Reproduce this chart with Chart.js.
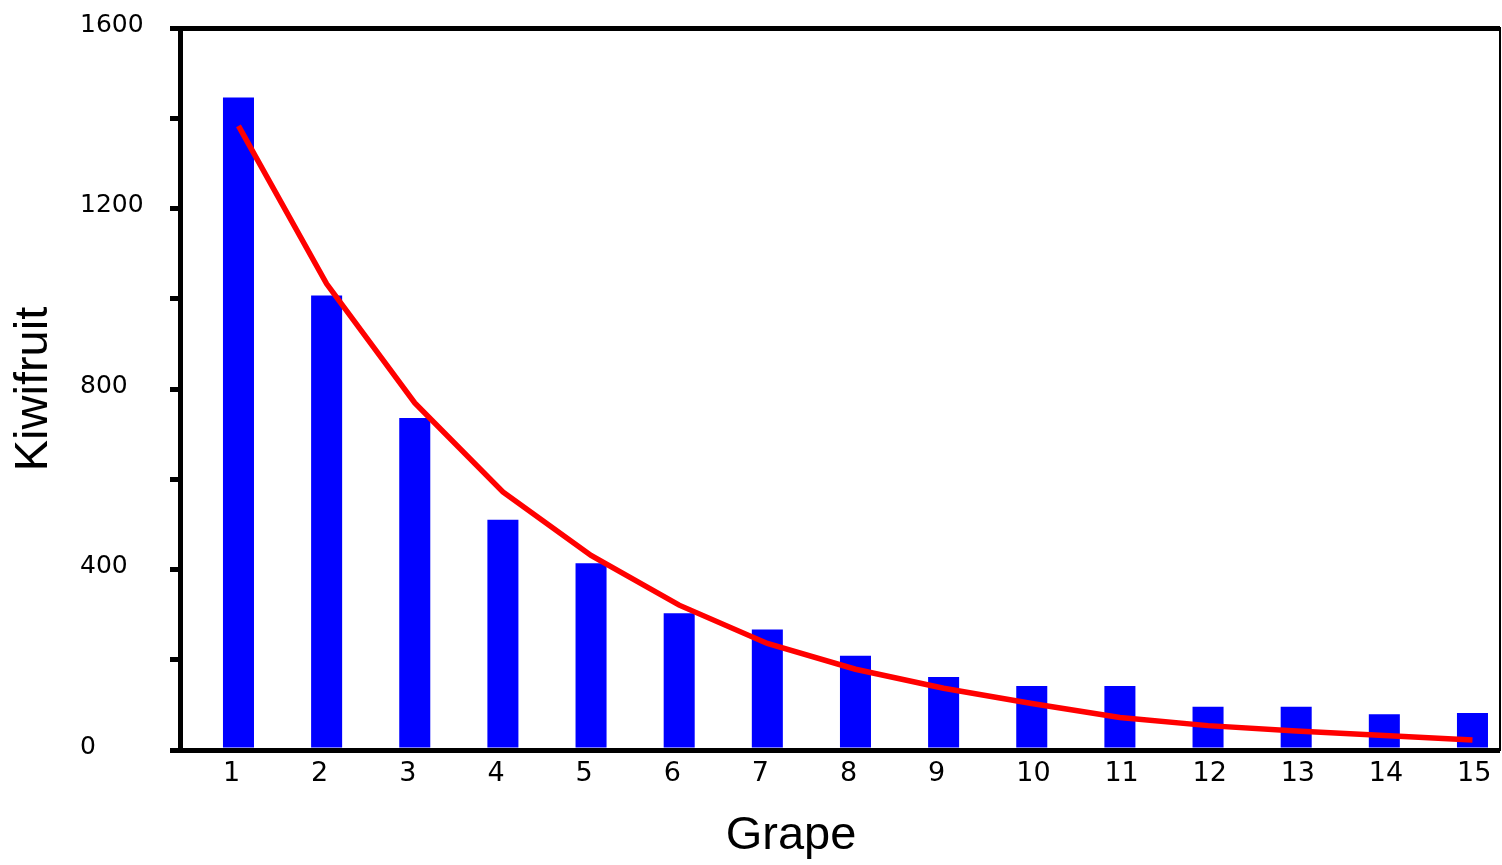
<!DOCTYPE html>
<html>
<head>
<meta charset="utf-8">
<script src="https://cdn.jsdelivr.net/npm/chart.js@4/dist/chart.umd.min.js"></script>
<style>
  html, body { margin: 0; padding: 0; background: #fff; }
  canvas { display: block; }
</style>
</head>
<body>
<canvas id="c" width="1502" height="865"></canvas>
<script>
// ---- data ----
const categories = [1, 2, 3, 4, 5, 6, 7, 8, 9, 10, 11, 12, 13, 14, 15];
const barValues  = [1446, 1007, 736, 510, 414, 303, 267, 209, 162, 142, 142, 96, 96, 79, 82];
const lineValues = [1383, 1033, 769, 572, 431, 321, 236, 179, 137, 103, 72, 54, 42, 32, 22];
const yMin = 0, yMax = 1600, yStep = 200, yLabelStep = 400;
const xTitle = 'Grape';
const yTitle = 'Kiwifruit';

const tickFont = 'DejaVu Sans';
const titleFont = 'Liberation Sans';

new Chart(document.getElementById('c'), {
  type: 'bar',
  data: {
    labels: categories,
    datasets: [
      {
        type: 'line',
        data: lineValues,
        borderColor: '#ff0000',
        borderWidth: 5.5,
        pointRadius: 0,
        tension: 0,
        fill: false,
        borderCapStyle: 'butt',
        order: 0
      },
      {
        type: 'bar',
        data: barValues,
        backgroundColor: '#0000ff',
        borderWidth: 0,
        categoryPercentage: 1,
        barPercentage: 0.352,
        order: 1
      }
    ]
  },
  options: {
    responsive: false,
    animation: false,
    devicePixelRatio: 1,
    layout: { padding: { left: 80, right: 0, top: 28, bottom: 0 } },
    plugins: { legend: { display: false }, tooltip: { enabled: false } },
    scales: {
      x: {
        type: 'linear',
        position: 'bottom',
        fullSize: true,
        offset: false,
        min: -0.798,
        max: 15.335,
        grid: { display: false, drawTicks: false, offset: false },
        border: { display: false },
        ticks: {
          stepSize: 1,
          includeBounds: false,
          autoSkip: false,
          maxRotation: 0,
          align: 'start',
          labelOffset: -15.5,
          padding: 8,
          color: '#000',
          font: { family: tickFont, size: 27 },
          callback: v => categories.includes(v) ? String(v) : null
        },
        title: {
          display: true,
          text: xTitle,
          color: '#000',
          font: { family: titleFont, size: 47, lineHeight: 1 },
          padding: { top: 0, bottom: 5 }
        },
        afterFit: s => { s.height = 115; s.paddingLeft = 0; s.paddingRight = 0; }
      },
      y: {
        position: 'left',
        min: yMin,
        max: yMax,
        z: 1,
        grid: {
          drawOnChartArea: true,
          drawTicks: true,
          tickLength: 10,
          lineWidth: 5,
          tickColor: '#000',
          color: ctx => (ctx.tick && (ctx.tick.value === yMin || ctx.tick.value === yMax)) ? '#000' : 'rgba(0,0,0,0)'
        },
        border: { display: true, color: '#000', width: 5 },
        ticks: {
          stepSize: yStep,
          autoSkip: false,
          crossAlign: 'far',
          labelOffset: -3,
          color: '#000',
          font: { family: tickFont, size: 25 },
          callback: v => (v % yLabelStep === 0) ? String(v) : ''
        },
        title: {
          display: true,
          text: yTitle,
          color: '#000',
          font: { family: titleFont, size: 47, lineHeight: 1 },
          padding: { top: -69, bottom: 0 }
        },
        afterFit: s => { s.width = 100; }
      },
      yRight: {
        position: 'right',
        display: true,
        min: yMin,
        max: yMax,
        grid: { display: false, drawTicks: false },
        ticks: { display: false },
        border: { display: true, color: '#000', width: 2 },
        afterFit: s => { s.width = 2; s.paddingTop = 0; s.paddingBottom = 0; }
      }
    }
  }
});
</script>
</body>
</html>
